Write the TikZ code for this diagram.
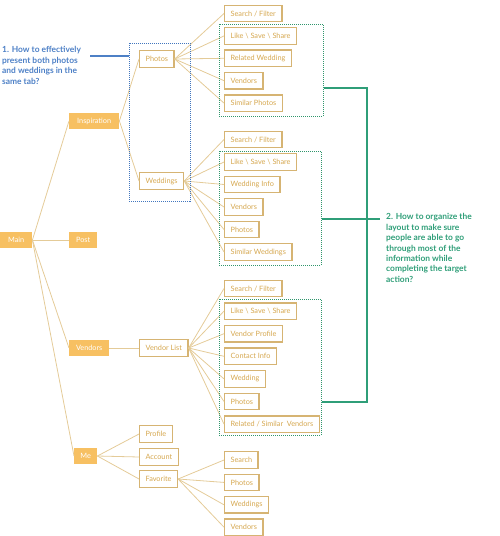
\documentclass[tikz,border=0pt]{standalone}
\usepackage{fontspec}
\setmainfont{Lato}
\usetikzlibrary{positioning}
\definecolor{mapfill}{RGB}{247,192,98}
\definecolor{maptext}{RGB}{214,168,80}
\definecolor{mapline}{RGB}{214,180,115}
\definecolor{mapedge}{RGB}{228,203,152}
\definecolor{qblue}{RGB}{77,128,198}
\definecolor{qgreen}{RGB}{47,158,120}
\definecolor{grpblue}{RGB}{66,118,190}
\definecolor{grpgreen}{RGB}{48,150,108}
\tikzset{
  topbox/.style={fill=mapfill,text=white,font=\fontsize{7.3}{8}\selectfont,minimum height=16.5,inner xsep=6,anchor=west},
  item/.style={draw=mapline,line width=1.3,fill=white,text=maptext,font=\fontsize{7.3}{8}\selectfont,minimum height=16.5,inner xsep=6,anchor=west},
  link/.style={draw=mapedge,line width=0.8},
  grp/.style={draw=#1,densely dotted,line width=1,inner sep=0},
  qtext/.style={text=#1,font=\bfseries\fontsize{8.4}{10.4}\selectfont,align=left,anchor=north west,inner sep=0},
  qline/.style={draw=#1,line width=1.3}
}
\begin{document}
\begin{tikzpicture}[x=1pt,y=-1pt]
  \useasboundingbox (0,0) rectangle (500,536);
  % first level
  \node[topbox,minimum width=32] (main) at (0,240) {Main};
  \node[topbox,minimum width=50] (insp) at (69,121) {Inspiration};
  \node[topbox,minimum width=28] (post) at (69,240) {Post};
  \node[topbox,minimum width=40] (vend) at (69,348) {Vendors};
  \node[topbox,minimum width=23] (me) at (74,456) {Me};
  \foreach \n in {insp,post,vend,me} \draw[link] (main.east) -- (\n.west);
  % second level
  \node[item] (ph) at (139,59) {Photos};
  \node[item] (wd) at (139,181) {Weddings};
  \node[item] (vl) at (139,348) {Vendor List};
  \node[item] (pf) at (139,434) {Profile};
  \node[item] (ac) at (139,457) {Account};
  \node[item] (fv) at (139,479) {Favorite};
  \draw[link] (insp.east) -- (ph.west); \draw[link] (insp.east) -- (wd.west);
  \draw[link] (vend.east) -- (vl.west);
  \foreach \n in {pf,ac,fv} \draw[link] (me.east) -- (\n.west);
  % leaves
  \foreach \lbl [count=\i] in {Search / Filter,Like \textbackslash{} Save \textbackslash{} Share,Related Wedding,Vendors,Similar Photos}{
    \node[item] (p\i) at (224,{13.5+22.4*(\i-1)}) {\lbl};
    \draw[link] (ph.east) -- (p\i.west);
  }
  \foreach \lbl [count=\i] in {Search / Filter,Like \textbackslash{} Save \textbackslash{} Share,Wedding Info,Vendors,Photos,Similar Weddings}{
    \node[item] (w\i) at (224,{139.5+22.5*(\i-1)}) {\lbl};
    \draw[link] (wd.east) -- (w\i.west);
  }
  \foreach \lbl [count=\i] in {Search / Filter,Like \textbackslash{} Save \textbackslash{} Share,Vendor Profile,Contact Info,Wedding,Photos,Related / Similar\ \ Vendors}{
    \node[item] (v\i) at (224,{288.5+22.6*(\i-1)}) {\lbl};
    \draw[link] (vl.east) -- (v\i.west);
  }
  \foreach \lbl [count=\i] in {Search,Photos,Weddings,Vendors}{
    \node[item] (f\i) at (224,{460+22.4*(\i-1)}) {\lbl};
    \draw[link] (fv.east) -- (f\i.west);
  }
  % dotted groups
  \node[grp=grpblue,minimum width=61,minimum height=158] (b1) at (159.5,122) {};
  \node[grp=grpgreen,minimum width=104,minimum height=92] (g1) at (271,70) {};
  \node[grp=grpgreen,minimum width=102,minimum height=114] (g2) at (270,208) {};
  \node[grp=grpgreen,minimum width=102,minimum height=136] (g3) at (270,367) {};
  % questions
  \node[qtext=qblue] (q1) at (2,46.5) {1. How to effectively\\present both photos\\and weddings in the\\same tab?};
  \coordinate (qa) at (90,56);
  \draw[qline=qblue] (qa) -- (b1.west |- qa);
  \node[qtext=qgreen] (q2) at (386,213.5) {2. How to organize the\\layout to make sure\\people are able to go\\through most of the\\information while\\completing the target\\action?};
  \coordinate (qt) at (367,88); \coordinate (qb) at (367,402); \coordinate (qm) at (380,219);
  \draw[qline=qgreen] (g1.east |- qt) -- (qt) -- (qb) -- (g3.east |- qb);
  \draw[qline=qgreen] (g2.east |- qm) -- (qm);
\end{tikzpicture}
\end{document}
